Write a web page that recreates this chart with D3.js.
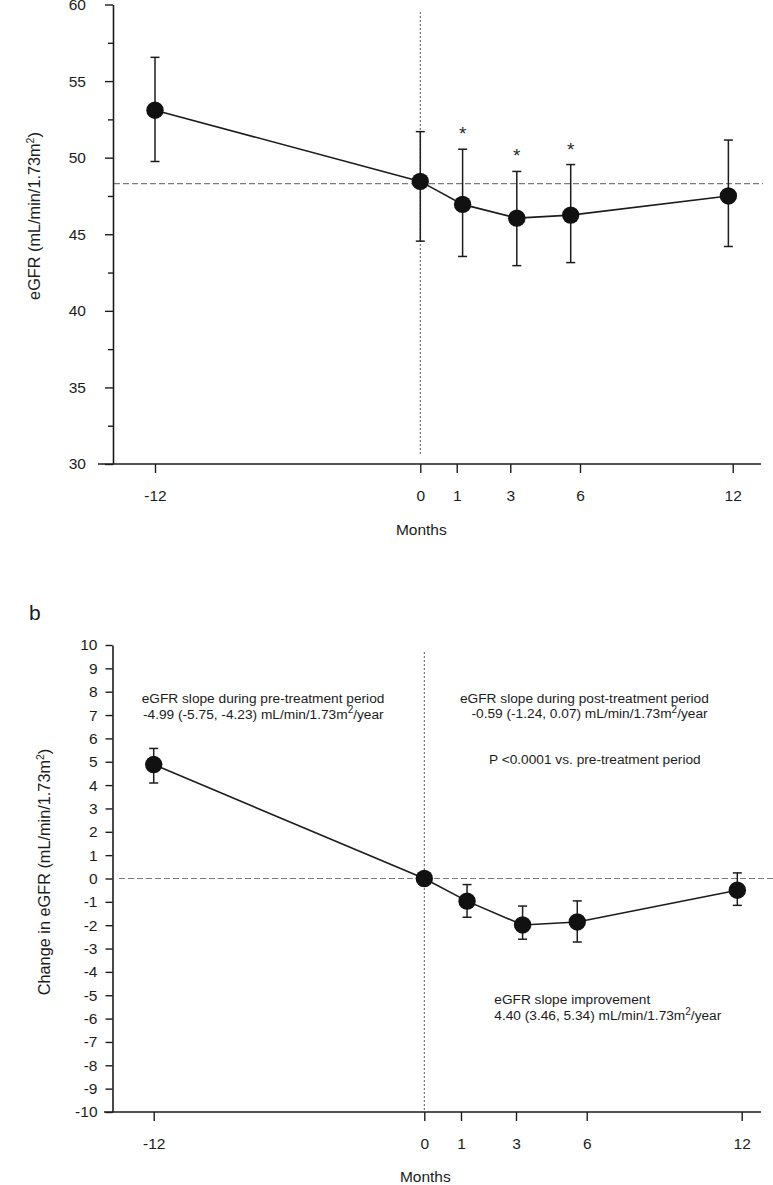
<!DOCTYPE html>
<html>
<head>
<meta charset="utf-8">
<script src="https://cdn.jsdelivr.net/npm/d3@7"></script>
<style>
  html, body { margin: 0; padding: 0; background: #fff; }
  svg { display: block; font-family: "Liberation Sans", Arial, sans-serif; }
</style>
</head>
<body>
<svg id="chart" width="773" height="1185"></svg>
<script>
// ---------- data ----------
const monthTicks = [-12, 0, 1, 3, 6, 12];               // x tick labels
const visitTimes = [-12, 0, 1.22, 3.28, 5.6, 11.83];    // actual mean visit times (months)

// panel a: eGFR (mean with 95% CI)
const egfrMean = [53.1, 48.45, 46.95, 46.05, 46.25, 47.5];
const egfrLow  = [49.75, 44.55, 43.55, 42.95, 43.15, 44.2];
const egfrHigh = [56.55, 51.7, 50.55, 49.1, 49.55, 51.15];
const egfrSignificant = [false, false, true, true, true, false];
const egfrBaseline = 48.3;
const egfrTicksMajor = [30, 35, 40, 45, 50, 55, 60];
const egfrTicksMinor = [32.5, 37.5, 42.5, 47.5, 52.5, 57.5];

// panel b: change in eGFR
const changeMean = [4.88, 0, -0.97, -1.99, -1.86, -0.5];
const changeLow  = [4.09, 0, -1.66, -2.6, -2.72, -1.15];
const changeHigh = [5.57, 0, -0.26, -1.18, -0.96, 0.24];
const changeTicks = d3.range(-10, 11, 1);

const preText  = ["eGFR slope during pre-treatment period", "-4.99 (-5.75, -4.23) mL/min/1.73m", "/year"];
const postText = ["eGFR slope during post-treatment period", "-0.59 (-1.24, 0.07) mL/min/1.73m", "/year"];
const pText = "P <0.0001 vs. pre-treatment period";
const impText = ["eGFR slope improvement", "4.40 (3.46, 5.34) mL/min/1.73m", "/year"];

// ---------- drawing ----------
const svg = d3.select("#chart");
const ink = "#1c1c1c";
const FONT = '"Liberation Sans", Arial, sans-serif';
const fmt = d => String(d);   // plain hyphen-minus like the original

function panel(opts) {
  const g = svg.append("g");
  const x = d3.scaleLinear().domain(monthTicks).range(opts.xRange);
  const y = d3.scaleLinear().domain(opts.yDomain).range(opts.yRange);

  // reference lines
  g.append("line")
    .attr("x1", opts.hLineX[0]).attr("x2", opts.hLineX[1])
    .attr("y1", y(opts.hLineValue)).attr("y2", y(opts.hLineValue))
    .attr("stroke", "#7a7a7a").attr("stroke-width", 1.2).attr("stroke-dasharray", "6,3");
  g.append("line")
    .attr("x1", x(0)).attr("x2", x(0))
    .attr("y1", opts.vLineY[0]).attr("y2", opts.vLineY[1])
    .attr("stroke", "#444").attr("stroke-width", 0.9).attr("stroke-dasharray", "2,2");

  // y axis
  const yAxis = d3.axisLeft(y).tickValues(opts.yTicks).tickSize(opts.yTickSize)
    .tickSizeOuter(0).tickPadding(opts.yTickPad).tickFormat(fmt);
  const ya = g.append("g").attr("transform", `translate(${opts.axisX},0)`).call(yAxis);
  ya.select(".domain").attr("stroke", ink).attr("stroke-width", 1.6);
  ya.selectAll(".tick line").attr("stroke", ink).attr("stroke-width", 1.4);
  ya.selectAll(".tick text").attr("fill", ink).style("font-size", "15.5px")
    .style("font-family", FONT);
  if (opts.yMinor) {
    const ym = d3.axisLeft(y).tickValues(opts.yMinor).tickSize(5).tickSizeOuter(0).tickFormat("");
    const ymg = g.append("g").attr("transform", `translate(${opts.axisX},0)`).call(ym);
    ymg.select(".domain").remove();
    ymg.selectAll(".tick line").attr("stroke", ink).attr("stroke-width", 1.4);
  }

  // x axis
  const axisY = y(opts.yDomain[0]);
  g.append("line").attr("x1", opts.xAxisExtent[0]).attr("x2", opts.xAxisExtent[1])
    .attr("y1", axisY).attr("y2", axisY).attr("stroke", ink).attr("stroke-width", 1.6);
  const xAxis = d3.axisBottom(x).tickValues(monthTicks).tickSize(9).tickSizeOuter(0)
    .tickFormat(fmt);
  const xa = g.append("g").attr("transform", `translate(0,${axisY})`).call(xAxis);
  xa.select(".domain").remove();
  xa.selectAll(".tick line").attr("stroke", ink).attr("stroke-width", 1.4);
  xa.selectAll(".tick text").attr("fill", ink).attr("y", 36.5).attr("dy", 0)
    .style("font-size", "15.5px").style("font-family", FONT);

  // x title
  g.append("text").attr("x", x(0) + 1).attr("y", axisY + opts.xTitleDy)
    .attr("text-anchor", "middle").attr("fill", ink).style("font-size", "15.5px").text("Months");

  // y title
  const yt = g.append("text")
    .attr("transform", `translate(${opts.yTitlePos[0]},${opts.yTitlePos[1]}) rotate(-90)`)
    .attr("text-anchor", "middle").attr("fill", ink).style("font-size", "16.3px");
  yt.append("tspan").text(opts.yTitle + " (mL/min/1.73m");
  yt.append("tspan").attr("dy", -6).style("font-size", "10.5px").text("2");
  yt.append("tspan").attr("dy", 6).text(")");

  // data
  const pts = visitTimes.map((t, i) => ({
    t, m: opts.mean[i], lo: opts.low[i], hi: opts.high[i], sig: opts.sig ? opts.sig[i] : false
  }));

  g.append("path").datum(pts)
    .attr("d", d3.line().x(d => x(d.t)).y(d => y(d.m)))
    .attr("fill", "none").attr("stroke", ink).attr("stroke-width", 1.6);

  const eb = g.append("g").selectAll("g").data(pts.filter(d => d.hi !== d.lo)).join("g");
  eb.append("line").attr("x1", d => x(d.t)).attr("x2", d => x(d.t))
    .attr("y1", d => y(d.lo)).attr("y2", d => y(d.hi))
    .attr("stroke", ink).attr("stroke-width", 1.5);
  eb.append("line").attr("x1", d => x(d.t) - 4.5).attr("x2", d => x(d.t) + 4.5)
    .attr("y1", d => y(d.hi)).attr("y2", d => y(d.hi))
    .attr("stroke", ink).attr("stroke-width", 1.5);
  eb.append("line").attr("x1", d => x(d.t) - 4.5).attr("x2", d => x(d.t) + 4.5)
    .attr("y1", d => y(d.lo)).attr("y2", d => y(d.lo))
    .attr("stroke", ink).attr("stroke-width", 1.5);

  g.append("g").selectAll("circle").data(pts).join("circle")
    .attr("cx", d => x(d.t)).attr("cy", d => y(d.m)).attr("r", 8.7).attr("fill", "#111");

  g.append("g").selectAll("text").data(pts.filter(d => d.sig)).join("text")
    .attr("x", d => x(d.t)).attr("y", d => y(d.hi) - 9)
    .attr("text-anchor", "middle").attr("fill", "#2a2a2a").style("font-size", "19px").text("*");

  return { g, x, y };
}

panel({
  xRange: [155, 420.3, 456.7, 510.3, 580, 732.7],
  yDomain: [30, 60], yRange: [464, 4.5],
  yTicks: egfrTicksMajor, yMinor: egfrTicksMinor, yTickSize: 8, yTickPad: 19,
  axisX: 113, xAxisExtent: [98, 761],
  hLineValue: egfrBaseline, hLineX: [114, 763], vLineY: [12, 456],
  yTitle: "eGFR", yTitlePos: [40, 216],
  xTitleDy: 71,
  mean: egfrMean, low: egfrLow, high: egfrHigh, sig: egfrSignificant
});

panel({
  xRange: [153.7, 424.3, 461, 516, 586.7, 741.7],
  yDomain: [-10, 10], yRange: [1112, 645],
  yTicks: changeTicks, yMinor: null, yTickSize: 7, yTickPad: 8,
  axisX: 112.5, xAxisExtent: [104, 761],
  hLineValue: 0, hLineX: [119, 773], vLineY: [652, 1112],
  yTitle: "Change in eGFR", yTitlePos: [50, 872],
  xTitleDy: 70,
  mean: changeMean, low: changeLow, high: changeHigh, sig: null
});

// panel letter
svg.append("text").attr("x", 29).attr("y", 620).attr("fill", ink)
  .style("font-size", "21px").text("b");

// annotations
function annot(lines, x, y0, lh) {
  const t = svg.append("text").attr("fill", ink).style("font-size", "13.7px");
  t.append("tspan").attr("x", x[0]).attr("y", y0).text(lines[0]);
  const l2 = t.append("tspan").attr("x", x[1]).attr("y", y0 + lh);
  l2.text(lines[1]);
  t.append("tspan").attr("dy", -5.5).style("font-size", "10px").text("2");
  t.append("tspan").attr("dy", 5.5).text(lines[2]);
}
annot(preText, [141.7, 143], 703, 15.7);
annot(postText, [460, 471.5], 702.5, 15.7);
svg.append("text").attr("x", 489).attr("y", 764).attr("fill", ink)
  .style("font-size", "13.7px").text(pText);
annot(impText, [494.3, 494.3], 1004, 16);
</script>
</body>
</html>
